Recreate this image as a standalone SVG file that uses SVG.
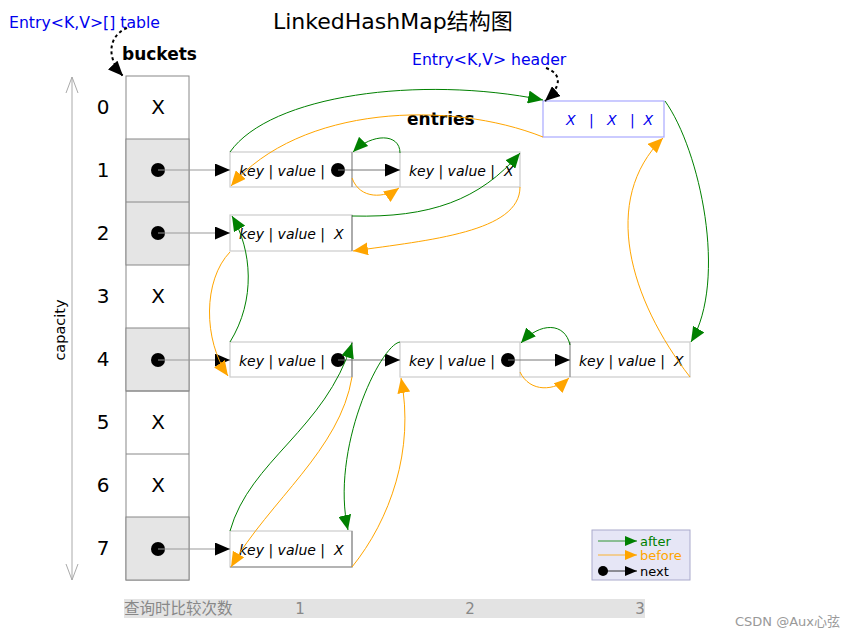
<svg xmlns="http://www.w3.org/2000/svg" width="858" height="638" viewBox="0 0 858 638">
<style>
text{font-family:"DejaVu Sans","Noto Sans CJK SC",sans-serif}
.blue{fill:#0000ee;font-size:15.7px}
.bold{font-weight:bold;font-size:17px}
.num{font-size:20px;text-anchor:middle}
.kv{font-style:italic;font-size:14px}
.box{fill:#fff;stroke:#cccccc;stroke-width:1.2}
.dark{stroke:#888;stroke-width:1.2}
.g{fill:none;stroke:#008000;stroke-width:1}
.o{fill:none;stroke:#ffa500;stroke-width:1}
.nx{stroke:#999;stroke-width:1}
.cell{stroke:#888;stroke-width:1}
</style>
<defs>
<marker id="ag" markerUnits="userSpaceOnUse" markerWidth="15" markerHeight="13" refX="15" refY="6.5" orient="auto"><path d="M0,0 L15,6.5 L0,13 z" fill="#008000"/></marker>
<marker id="ao" markerUnits="userSpaceOnUse" markerWidth="15" markerHeight="13" refX="15" refY="6.5" orient="auto"><path d="M0,0 L15,6.5 L0,13 z" fill="#ffa500"/></marker>
<marker id="ak" markerUnits="userSpaceOnUse" markerWidth="15" markerHeight="13" refX="15" refY="6.5" orient="auto"><path d="M0,0 L15,6.5 L0,13 z" fill="#000"/></marker>
<marker id="ag2" markerUnits="userSpaceOnUse" markerWidth="12" markerHeight="10" refX="12" refY="5" orient="auto"><path d="M0,0 L12,5 L0,10 z" fill="#008000"/></marker>
<marker id="ao2" markerUnits="userSpaceOnUse" markerWidth="12" markerHeight="10" refX="12" refY="5" orient="auto"><path d="M0,0 L12,5 L0,10 z" fill="#ffa500"/></marker>
<marker id="ak2" markerUnits="userSpaceOnUse" markerWidth="12" markerHeight="10" refX="12" refY="5" orient="auto"><path d="M0,0 L12,5 L0,10 z" fill="#000"/></marker>
</defs>
<rect width="858" height="638" fill="#fff"/>

<!-- titles -->
<text x="9" y="28" class="blue">Entry&lt;K,V&gt;[] table</text>
<text x="273" y="29" font-size="22">LinkedHashMap结构图</text>
<text x="122" y="60" class="bold">buckets</text>
<text x="412" y="65" class="blue">Entry&lt;K,V&gt; header</text>
<text x="407" y="125" class="bold">entries</text>

<!-- capacity -->
<g id="capacity">
<line x1="72" y1="77" x2="72" y2="580" stroke="#aaa" stroke-width="1"/>
<path d="M66,93 L72,77 L78,93 M66,564 L72,580 L78,564" fill="none" stroke="#aaa" stroke-width="1"/>
<text x="65" y="330" font-size="14.5" text-anchor="middle" transform="rotate(-90 65 330)">capacity</text>
</g>

<!-- buckets -->
<g id="buckets">
<rect x="126" y="76" width="63" height="504" fill="#fff" class="cell"/>
<rect x="126" y="139" width="63" height="126" fill="#e5e5e5" class="cell"/>
<rect x="126" y="328" width="63" height="63" fill="#e5e5e5" class="cell"/>
<rect x="126" y="517" width="63" height="63" fill="#e5e5e5" class="cell"/>
<line x1="126" y1="202" x2="189" y2="202" class="cell"/>
<line x1="126" y1="391" x2="189" y2="391" class="cell"/>
<line x1="126" y1="454" x2="189" y2="454" class="cell"/>
<text x="103" y="114" class="num">0</text>
<text x="103" y="177" class="num">1</text>
<text x="103" y="240" class="num">2</text>
<text x="103" y="303" class="num">3</text>
<text x="103" y="366" class="num">4</text>
<text x="103" y="429" class="num">5</text>
<text x="103" y="492" class="num">6</text>
<text x="103" y="555" class="num">7</text>
<text x="158" y="114" class="num">X</text>
<text x="158" y="303" class="num">X</text>
<text x="158" y="429" class="num">X</text>
<text x="158" y="492" class="num">X</text>
<circle cx="158" cy="170" r="7"/>
<circle cx="158" cy="233" r="7"/>
<circle cx="158" cy="360" r="7"/>
<circle cx="158" cy="549" r="7"/>
</g>

<!-- header -->
<g id="header">
<rect x="543" y="101" width="121" height="36" fill="#fff" stroke="#a8a8ff" stroke-width="1.2"/>
<text x="566" y="125" fill="#0000ee" font-size="14" font-style="italic" xml:space="preserve">X   |   X   |  X</text>
</g>

<!-- entries row 1 -->
<g id="entry-1a">
<rect x="230" y="152" width="290" height="35" class="box"/>
<line x1="352" y1="152" x2="352" y2="187" class="dark"/>
<line x1="400" y1="152" x2="400" y2="187" stroke="#ccc" stroke-width="1.2"/>
<text x="239" y="176" class="kv">key | value | </text>
<circle cx="338" cy="170" r="7"/>
</g>
<g id="entry-1b">
<text x="409" y="176" class="kv" xml:space="preserve">key | value |  X</text>
</g>
<!-- row 2 -->
<g id="entry-2">
<rect x="230" y="215" width="122" height="36" class="box"/>
<line x1="352" y1="215" x2="352" y2="251" class="dark"/>
<text x="239" y="239" class="kv" xml:space="preserve">key | value |  X</text>
</g>
<!-- row 4 -->
<g id="entry-4a">
<rect x="230" y="342" width="122" height="35" class="box"/>
<line x1="352" y1="342" x2="352" y2="377" class="dark"/>
<text x="239" y="366" class="kv">key | value | </text>
<circle cx="338" cy="360" r="7"/>
</g>
<g id="entry-4b">
<rect x="400" y="342" width="290" height="35" class="box"/>
<line x1="520" y1="342" x2="520" y2="377" stroke="#ccc" stroke-width="1.2"/>
<line x1="570" y1="342" x2="570" y2="377" class="dark"/>
<text x="409" y="366" class="kv">key | value | </text>
<circle cx="508" cy="360" r="7"/>
</g>
<g id="entry-4c">
<text x="579" y="366" class="kv" xml:space="preserve">key | value |  X</text>
</g>
<!-- row 7 -->
<g id="entry-7">
<rect x="230" y="531" width="122" height="36" class="box"/>
<path d="M230,567 L352,567 L352,531" fill="none" class="dark"/>
<text x="239" y="555" class="kv" xml:space="preserve">key | value |  X</text>
</g>

<!-- legend -->
<g id="legend">
<rect x="592" y="530" width="98" height="50" fill="#e6e6f6" stroke="#aaaacc" stroke-width="1"/>
<line x1="598" y1="541" x2="637" y2="541" stroke="#008000" stroke-width="0.8" marker-end="url(#ag2)"/>
<text x="640" y="546" font-size="13" fill="#008000">after</text>
<line x1="598" y1="555" x2="637" y2="555" stroke="#ffa500" stroke-width="0.8" marker-end="url(#ao2)"/>
<text x="640" y="560" font-size="13" fill="#ffa500">before</text>
<circle cx="603" cy="571" r="5"/>
<line x1="603" y1="571" x2="637" y2="571" stroke="#000" stroke-width="0.8" marker-end="url(#ak2)"/>
<text x="640" y="576" font-size="13">next</text>
</g>

<!-- connectors -->
<g id="connectors">
<line x1="158" y1="170" x2="230" y2="170" class="nx" marker-end="url(#ak)"/>
<line x1="158" y1="233" x2="230" y2="233" class="nx" marker-end="url(#ak)"/>
<line x1="158" y1="360" x2="230" y2="360" class="nx" marker-end="url(#ak)"/>
<line x1="158" y1="549" x2="230" y2="549" class="nx" marker-end="url(#ak)"/>
<line x1="338" y1="170" x2="400" y2="170" stroke="#777" stroke-width="1" marker-end="url(#ak)"/>
<line x1="338" y1="360" x2="400" y2="360" stroke="#777" stroke-width="1" marker-end="url(#ak)"/>
<line x1="508" y1="360" x2="570" y2="360" stroke="#777" stroke-width="1" marker-end="url(#ak)"/>
<path d="M127,28 C108,36 106,58 123,76" fill="none" stroke="#000" stroke-width="2" stroke-dasharray="3,3" marker-end="url(#ak)"/>
<path d="M546,68 C562,74 562,86 545,101" fill="none" stroke="#000" stroke-width="2" stroke-dasharray="3,3" marker-end="url(#ak)"/>
<path d="M230,152 C270,95 420,75 543,100" class="g" marker-end="url(#ag)"/>
<path d="M543,137 C450,100 300,105 231,186" class="o" marker-end="url(#ao)"/>
<path d="M400,153 C400,133 372,133 353,152" class="g" marker-end="url(#ag)"/>
<path d="M352,178 C360,200 385,198 399,188" class="o" marker-end="url(#ao)"/>
<path d="M352,216 C430,218 480,200 520,153" class="g" marker-end="url(#ag)"/>
<path d="M520,187 C520,232 430,240 353,251" class="o" marker-end="url(#ao)"/>
<path d="M230,342 C256,300 252,250 232,216" class="g" marker-end="url(#ag)"/>
<path d="M230,252 C203,280 203,340 228,376" class="o" marker-end="url(#ao)"/>
<path d="M230,531 C250,460 325,430 352,343" class="g" marker-end="url(#ag)"/>
<path d="M352,377 C340,450 270,500 231,567" class="o" marker-end="url(#ao)"/>
<path d="M400,342 C380,345 330,450 348,530" class="g" marker-end="url(#ag)"/>
<path d="M352,567 C390,520 415,450 401,378" class="o" marker-end="url(#ao)"/>
<path d="M570,345 C565,322 540,322 521,343" class="g" marker-end="url(#ag)"/>
<path d="M520,372 C530,393 555,391 569,378" class="o" marker-end="url(#ao)"/>
<path d="M665,101 C700,150 728,280 691,342" class="g" marker-end="url(#ag)"/>
<path d="M690,377 C630,300 600,200 663,138" class="o" marker-end="url(#ao)"/>
</g>

<!-- bottom bar -->
<g id="axis">
<rect x="124" y="599" width="521" height="19" fill="#e3e3e3"/>
<text x="124" y="614" font-size="15.5" fill="#888">查询时比较次数</text>
<text x="300" y="614" font-size="15" fill="#888" text-anchor="middle">1</text>
<text x="470" y="614" font-size="15" fill="#888" text-anchor="middle">2</text>
<text x="640" y="614" font-size="15" fill="#888" text-anchor="middle">3</text>
</g>
<text x="735" y="626" font-size="13" fill="#999" font-family="Liberation Sans, Noto Sans CJK SC, sans-serif">CSDN @Aux心弦</text>
</svg>
